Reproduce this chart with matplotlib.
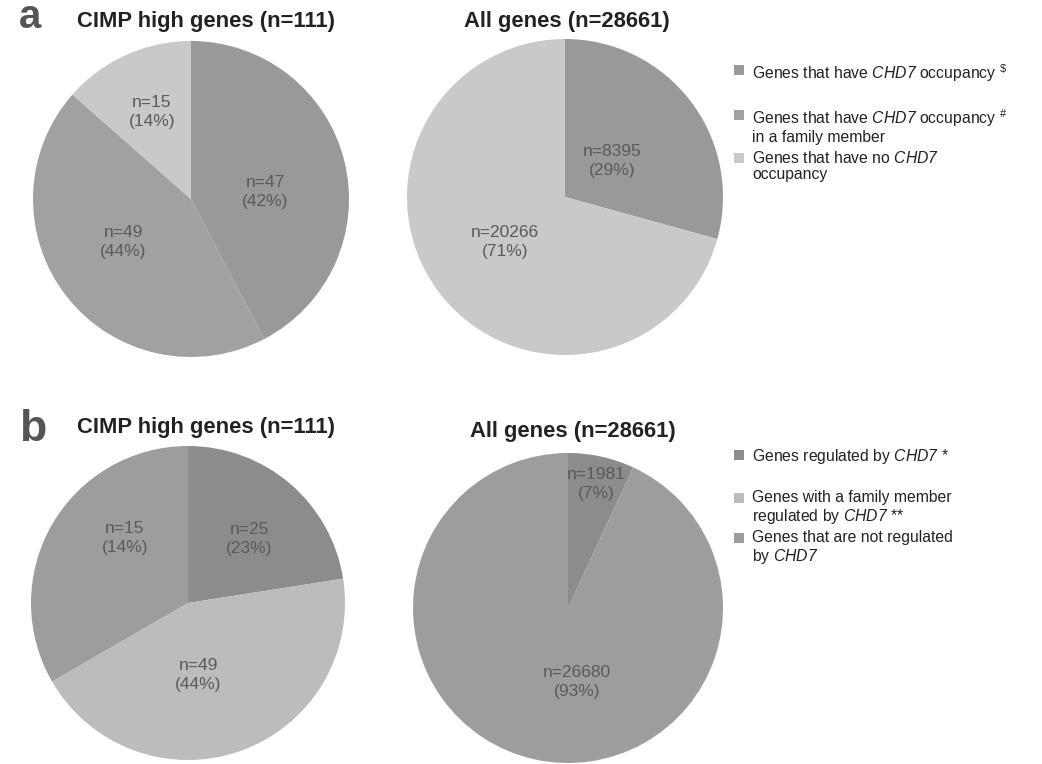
import matplotlib
matplotlib.use("Agg")
import matplotlib.pyplot as plt
from matplotlib.patches import Rectangle

plt.rcParams['font.family'] = ['Liberation Sans', 'DejaVu Sans']
plt.rcParams['mathtext.fontset'] = 'custom'
plt.rcParams['mathtext.rm'] = 'Liberation Sans:italic'
plt.rcParams['mathtext.it'] = 'Liberation Sans:italic'
plt.rcParams['mathtext.sf'] = 'Liberation Sans'

# ---- data ----
a_titles = ["CIMP high genes (n=111)", "All genes (n=28661)"]
a_cimp_values = [47, 49, 15]
a_cimp_labels = ["n=47\n(42%)", "n=49\n(44%)", "n=15\n(14%)"]
a_all_values = [8395, 0, 20266]
a_all_labels = ["n=8395\n(29%)", "", "n=20266\n(71%)"]
a_colors = ["#999999", "#a1a1a1", "#c9c9c9"]
a_legend = ["Genes that have $\\mathrm{CHD7}$ occupancy $^{\\mathsf{\\$}}$",
            "Genes that have $\\mathrm{CHD7}$ occupancy $^{\\mathsf{\\#}}$\nin a family member",
            "Genes that have no $\\mathrm{CHD7}$\noccupancy"]

b_titles = ["CIMP high genes (n=111)", "All genes (n=28661)"]
b_cimp_values = [25, 49, 37]
b_cimp_labels = ["n=25\n(23%)", "n=49\n(44%)", "n=15\n(14%)"]
b_all_values = [1981, 0, 26680]
b_all_labels = ["n=1981\n(7%)", "", "n=26680\n(93%)"]
b_colors = ["#8c8c8c", "#bcbcbc", "#9d9d9d"]
b_legend = ["Genes regulated by $\\mathrm{CHD7}$ *",
            "Genes with a family member\nregulated by $\\mathrm{CHD7}$ **",
            "Genes that are not regulated\nby $\\mathrm{CHD7}$"]

W, H = 1042, 764
fig = plt.figure(figsize=(W / 100, H / 100), dpi=100)
fig.patch.set_facecolor("white")


def add_pie(cx, cy, r, values, labels, colors, label_pos):
    ax = fig.add_axes([(cx - r) / W, 1 - (cy + r) / H, 2 * r / W, 2 * r / H])
    ax.pie(values, colors=colors, startangle=90, counterclock=False,
           radius=1, wedgeprops=dict(linewidth=0))
    ax.set_xlim(-1, 1)
    ax.set_ylim(-1, 1)
    ax.set_aspect('auto')
    ax.axis('off')
    for lab, (px, py) in zip(labels, label_pos):
        if lab:
            fig.text(px / W, 1 - py / H, lab, ha='center', va='center',
                     fontsize=12.5, color='#5a5a5a', linespacing=1.4)
    return ax


# panel a
add_pie(191, 199, 158, a_cimp_values, a_cimp_labels, a_colors,
        [(265, 192), (123, 242), (152, 112)])
add_pie(565, 197, 158, a_all_values, a_all_labels, a_colors,
        [(612, 161), (0, 0), (505, 242)])
# panel b
add_pie(188, 603, 157, b_cimp_values, b_cimp_labels, b_colors,
        [(249, 539), (198, 675), (125, 538)])
add_pie(568, 608, 155, b_all_values, b_all_labels, b_colors,
        [(596, 484), (0, 0), (577, 682)])

# titles
for t, x, y in [(a_titles[0], 206, 22), (a_titles[1], 567, 22),
                (b_titles[0], 206, 428), (b_titles[1], 573, 431)]:
    fig.text(x / W, 1 - y / H, t, ha='center', va='center', fontsize=15.8,
             fontweight='bold', color='#222222')

fig.text(19 / W, 1 - 17 / H, "a", ha='left', va='center', fontsize=29,
         fontweight='bold', color='#555555')
fig.text(19 / W, 1 - 430 / H, "b", ha='left', va='center', fontsize=32,
         fontweight='bold', color='#555555')


def legend(entries, colors, ys):
    for lab, c, y in zip(entries, colors, ys):
        fig.patches.append(Rectangle((734 / W, 1 - (y + 5) / H), 10 / W, 10 / H,
                                     transform=fig.transFigure, facecolor=c,
                                     edgecolor='none'))
        fig.text(752 / W, 1 - (y - 8) / H, lab, ha='left', va='top',
                 fontsize=11.3, color='#222222', linespacing=1.12)


legend(a_legend, a_colors, [70, 115, 158])
legend(b_legend, b_colors, [455, 498, 538])

fig.savefig("out.png", dpi=100, facecolor="white")
